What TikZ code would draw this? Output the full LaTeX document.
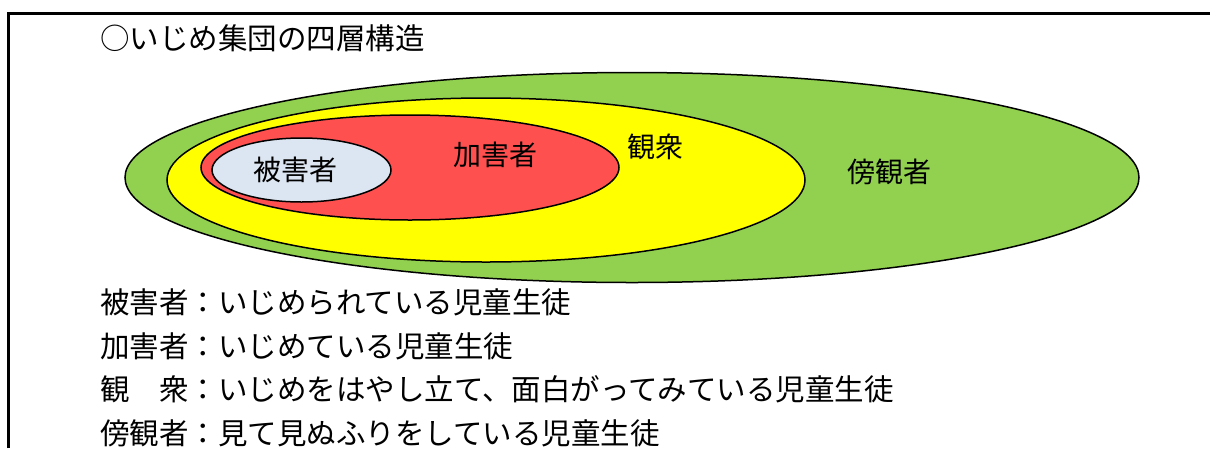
\documentclass[tikz,border=0pt]{standalone}
\usepackage{fontspec}
\setmainfont{Noto Sans CJK JP}
\usetikzlibrary{shapes.geometric}
\definecolor{bystanderGreen}{HTML}{92D050}
\definecolor{audienceYellow}{HTML}{FFFF00}
\definecolor{bullyRed}{HTML}{FF5050}
\definecolor{victimBlue}{HTML}{DCE6F2}
\begin{document}
\begin{tikzpicture} [
      x=1pt, y=-1pt,
      layer/.style={draw, ellipse, line width=1.5pt, inner sep=0pt},
      layerText/.style={inner sep=0pt, font=\fontsize{28}{28}\selectfont},
      legend/.style={anchor=west, inner sep=0pt, font=\fontsize{29.5}{29.5}\selectfont}
   ]
    \useasboundingbox (0, 0) rectangle (1210, 448);
    \draw[line width=3pt] (8.5, 448) -- (8.5, 13) -- (1210, 13);

    \node[legend] (ndTitle) at (100, 38) {○いじめ集団の四層構造};

    % four layers, outer to inner
    \node[layer, fill=bystanderGreen, minimum width=1014pt, minimum height=210pt] (ndBystander) at (632, 177.5) {};
    \node[layer, fill=audienceYellow, minimum width=638pt, minimum height=164pt] (ndAudience) at (486, 180) {};
    \node[layer, fill=bullyRed, minimum width=418pt, minimum height=105pt] (ndBully) at (410, 167.5) {};
    \node[layer, fill=victimBlue, minimum width=179pt, minimum height=64pt] (ndVictim) at (301.5, 170) {};

    \node[layerText] (txVictim) at (295, 170) {被害者};
    \node[layerText] (txBully) at (495, 155) {加害者};
    \node[layerText] (txAudience) at (655, 147) {観衆};
    \node[layerText] (txBystander) at (889, 172) {傍観者};

    \node[legend] (lgVictim) at (100, 302) {被害者：いじめられている児童生徒};
    \node[legend] (lgBully) at (100, 346) {加害者：いじめている児童生徒};
    \node[legend] (lgAudience) at (100, 389) {観　衆：いじめをはやし立て、面白がってみている児童生徒};
    \node[legend] (lgBystander) at (100, 433) {傍観者：見て見ぬふりをしている児童生徒};

  \end{tikzpicture}
\end{document}
